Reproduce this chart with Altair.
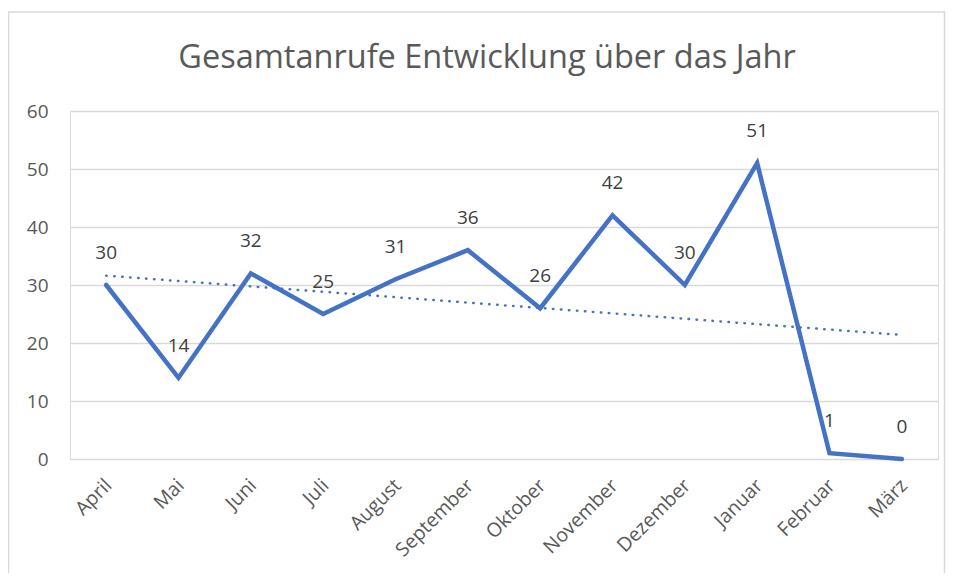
import altair as alt
import pandas as pd

months = ["April", "Mai", "Juni", "Juli", "August", "September", "Oktober",
          "November", "Dezember", "Januar", "Februar", "März"]
calls = [30, 14, 32, 25, 31, 36, 26, 42, 30, 51, 1, 0]
y_ticks = [0, 10, 20, 30, 40, 50, 60]
title_text = "Gesamtanrufe Entwicklung über das Jahr"

df = pd.DataFrame({"Monat": months, "Anrufe": calls, "idx": list(range(len(months)))})

FONT = "Open Sans"
GREY = "#595959"
BLUE = "#4472C4"

x_enc = alt.X("Monat:N", sort=months,
              scale=alt.Scale(type="point", padding=0.5),
              axis=alt.Axis(title=None, labelAngle=-45, labelFontSize=19.5,
                            labelColor=GREY, labelFont=FONT, domain=False,
                            ticks=False, labelPadding=23, labelOffset=2,
                            grid=False))
y_enc = alt.Y("Anrufe:Q", scale=alt.Scale(domain=[0, 60]),
              axis=alt.Axis(title=None, values=y_ticks, labelFontSize=19,
                            labelColor=GREY, labelFont=FONT, domain=False,
                            ticks=False, labelPadding=22, gridColor="#d9d9d9",
                            gridWidth=1.3))

base = alt.Chart(df)

line = base.mark_line(color=BLUE, strokeWidth=4.5, strokeJoin="miter",
                      strokeCap="round").encode(x=x_enc, y=y_enc)

labels = base.mark_text(fontSize=19, font=FONT, color="#404040",
                        baseline="middle", dy=-32).encode(
    x=alt.X("Monat:N", sort=months), y="Anrufe:Q", text="Anrufe:Q")

month_array = "[" + ",".join("'" + m + "'" for m in months) + "]"
trend = base.transform_regression("idx", "Anrufe", method="linear").transform_calculate(
    Monat=month_array + "[round(datum.idx)]"
).mark_line(color=BLUE, strokeWidth=2.5, strokeDash=[0.5, 7.5],
            strokeCap="round").encode(x=alt.X("Monat:N", sort=months),
                                      y="Anrufe:Q")

one = pd.DataFrame({"t": [title_text]})
border = alt.Chart(one).mark_rect(
    fill=None, stroke="#d9d9d9", strokeWidth=1.5, clip=False
).encode(x=alt.value(-61.5), x2=alt.value(874.5), y=alt.value(-99), y2=alt.value(600))

title = alt.Chart(one).mark_text(
    font=FONT, fontSize=32.5, color=GREY, baseline="alphabetic", align="center"
).encode(x=alt.value(417), y=alt.value(-43), text="t:N")

chart = alt.layer(border, title, trend, line, labels).properties(
    width=868, height=348,
    padding={"left": 62, "top": 103, "right": 8, "bottom": 114},
    autosize=alt.AutoSizeParams(type="none"),
).configure_view(stroke=None).configure(background="white")

chart.save("out.html", embed_options={"renderer": "svg", "actions": False})
